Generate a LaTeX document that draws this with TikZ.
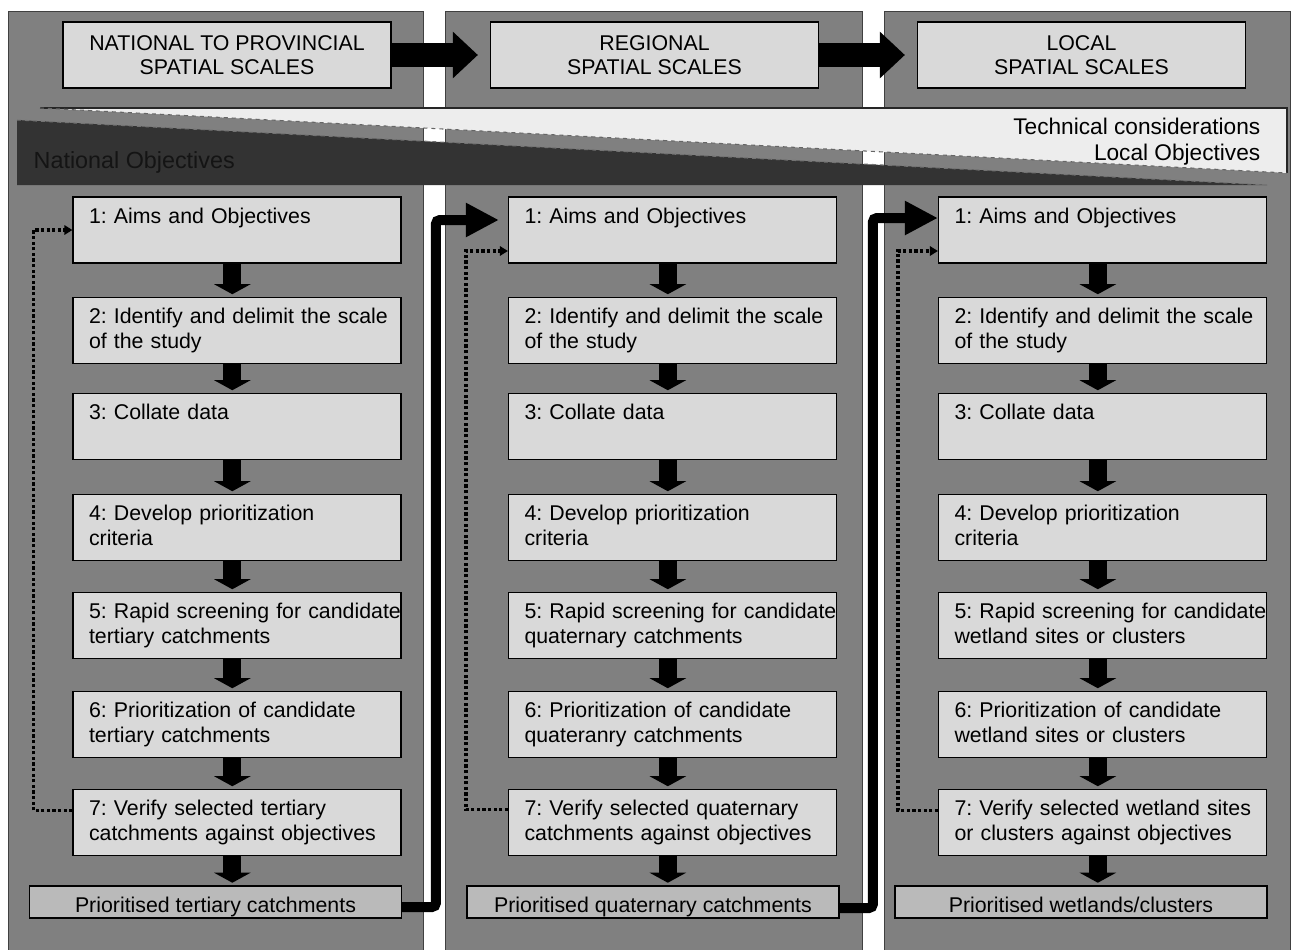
\documentclass[tikz,border=0pt]{standalone}
\usepackage{fontspec}
\setmainfont{Liberation Sans}
\usetikzlibrary{arrows.meta, positioning, calc}
\frenchspacing

\begin{document}
\begin{tikzpicture}[
    x=0.75pt, y=-0.75pt,
    panel/.style={draw=black!75, fill=black!50, line width=0.6pt},
    scalebox/.style={rectangle, draw, fill=black!15, line width=0.9pt, minimum width=246pt, minimum height=49.5pt, align=center, font=\fontsize{16}{18.5}\selectfont},
    stepbox/.style={rectangle, draw, fill=black!15, line width=0.9pt, text width=246pt, inner xsep=0pt, inner ysep=0pt, text height=19.5pt, text depth=30pt, align=left, font=\fontsize{16}{18.5}\selectfont, execute at begin node={\leftskip=12pt\hyphenpenalty=10000\relax}},
    resultbox/.style={rectangle, draw, fill=black!27, line width=0.9pt, minimum width=279pt, minimum height=24pt, inner sep=0pt, text height=15pt, text depth=0pt, font=\fontsize{16}{18.5}\selectfont},
    bigarrow/.style={line width=18pt, -{Triangle[width=33.75pt,length=18.75pt]}},
    downarrow/.style={line width=13.5pt, -{Triangle[width=27pt,length=7.5pt]}, shorten >=2pt},
    linkarrow/.style={line width=7.5pt, rounded corners=3pt, -{Triangle[width=24pt,length=24.75pt]}},
    feedback/.style={line width=2.6pt, dash pattern=on 2.4pt off 1.8pt, -{Triangle[width=7pt,length=6pt]}}
]
\useasboundingbox (0,0) rectangle (1291,949);

% Column panels
\draw[panel] (8,11) rectangle (423,952);
\draw[panel] (445,11) rectangle (862,952);
\draw[panel] (884,11) rectangle (1290,952);

% Scale headers
\node[scalebox] (h1) at (227,55) {NATIONAL TO PROVINCIAL\\SPATIAL SCALES};
\node[scalebox] (h2) at (654.5,55) {REGIONAL\\SPATIAL SCALES};
\node[scalebox] (h3) at (1081.5,55) {LOCAL\\SPATIAL SCALES};
\draw[bigarrow] (h1.east) -- ([xshift=-9pt]h2.west);
\draw[bigarrow] (h2.east) -- ([xshift=-9pt]h3.west);

% Wedges
\fill[black!7] (40,108) -- (1287,108) -- (1287,173) -- cycle;
\draw[black!85, line width=0.8pt] (40,108) -- (1287,108) -- (1287,173);
\draw[black!60, dashed, line width=0.8pt] (40,108) -- (1287,173);
\fill[black!80] (17,120) -- (1267,185) -- (17,185) -- cycle;
\draw[black!55, dashed, line width=0.8pt] (17,120) -- (1267,185);
\node[anchor=east, align=right, font=\fontsize{17}{20}\selectfont] (tech) at (1265,141.5) {Technical considerations\\Local Objectives};
\node[anchor=west, text=black!92, font=\fontsize{17.5}{20}\selectfont] (natobj) at (29,162) {National Objectives};

% National to provincial
\node[stepbox] (a1) at (237,230) {1: Aims and Objectives};
\node[stepbox] (a2) at (237,330.5) {2: Identify and delimit the scale\\of the study};
\node[stepbox] (a3) at (237,426.5) {3: Collate data};
\node[stepbox] (a4) at (237,527.5) {4: Develop prioritization\\criteria};
\node[stepbox] (a5) at (237,625.5) {5: Rapid screening for candidate\\tertiary catchments};
\node[stepbox] (a6) at (237,724.5) {6: Prioritization of candidate\\tertiary catchments};
\node[stepbox] (a7) at (237,822.5) {7: Verify selected tertiary\\catchments against objectives};
\node[resultbox] (ra) at (215.5,902) {Prioritised tertiary catchments};

% Regional
\node[stepbox] (b1) at (672.5,230) {1: Aims and Objectives};
\node[stepbox] (b2) at (672.5,330.5) {2: Identify and delimit the scale\\of the study};
\node[stepbox] (b3) at (672.5,426.5) {3: Collate data};
\node[stepbox] (b4) at (672.5,527.5) {4: Develop prioritization\\criteria};
\node[stepbox] (b5) at (672.5,625.5) {5: Rapid screening for candidate\\quaternary catchments};
\node[stepbox] (b6) at (672.5,724.5) {6: Prioritization of candidate\\quateranry catchments};
\node[stepbox] (b7) at (672.5,822.5) {7: Verify selected quaternary\\catchments against objectives};
\node[resultbox] (rb) at (653,902) {Prioritised quaternary catchments};

% Local
\node[stepbox] (c1) at (1102.5,230) {1: Aims and Objectives};
\node[stepbox] (c2) at (1102.5,330.5) {2: Identify and delimit the scale\\of the study};
\node[stepbox] (c3) at (1102.5,426.5) {3: Collate data};
\node[stepbox] (c4) at (1102.5,527.5) {4: Develop prioritization\\criteria};
\node[stepbox] (c5) at (1102.5,625.5) {5: Rapid screening for candidate\\wetland sites or clusters};
\node[stepbox] (c6) at (1102.5,724.5) {6: Prioritization of candidate\\wetland sites or clusters};
\node[stepbox] (c7) at (1102.5,822.5) {7: Verify selected wetland sites\\or clusters against objectives};
\node[resultbox] (rc) at (1081,902) {Prioritised wetlands/clusters};

% Step arrows
\foreach \c in {a,b,c} {
    \foreach \i/\j in {1/2, 2/3, 3/4, 4/5, 5/6, 6/7} {
        \draw[downarrow] ([xshift=-3.5pt]\c\i.south) -- ([xshift=-3.5pt]\c\j.north);
    }
    \draw[downarrow] ([xshift=-3.5pt]\c7.south) -- ([xshift=-3.5pt]\c7.south |- r\c.north);
}

% Feedback loops
\draw[feedback] ($(a7.west)+(0,-12)$) -| ($(a1.west)+(-39,0)$) -- (a1.west);
\draw[feedback] ($(b7.west)+(0,-13)$) -| ($(b1.west)+(-42,21)$) -- ($(b1.west)+(0,21)$);
\draw[feedback] ($(c7.west)+(0,-12)$) -| ($(c1.west)+(-40,21)$) -- ($(c1.west)+(0,21)$);

% Links to next scale
\draw[linkarrow] ($(ra.east)+(0,5)$) -| ($(b1.west)+(-72,-10)$) -- ($(b1.west)+(-9,-10)$);
\draw[linkarrow] ($(rb.east)+(0,6)$) -| ($(c1.west)+(-65,-12)$) -- ($(c1.west)+(0,-12)$);

\end{tikzpicture}
\end{document}
